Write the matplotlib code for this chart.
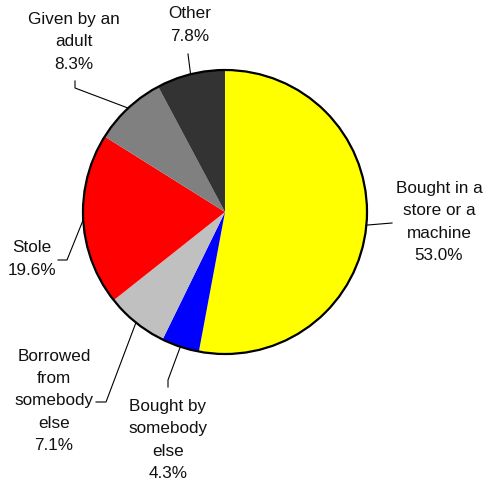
import numpy as np
import matplotlib.pyplot as plt
from matplotlib.patches import Circle

plt.rcParams['font.family'] = ['Liberation Sans', 'DejaVu Sans']

# data (clockwise from top)
labels = ["Bought in a\nstore or a\nmachine", "Bought by\nsomebody\nelse",
          "Borrowed\nfrom\nsomebody\nelse", "Stole", "Given by an\nadult", "Other"]
values = [53.0, 4.3, 7.1, 19.6, 8.3, 7.8]
colors = ["#ffff00", "#0000ff", "#c0c0c0", "#ff0000", "#808080", "#333333"]

# layout in pixel coordinates (y down)
cx, cy, r = 225, 212, 142
text_pos = [(439, 222), (168, 440), (54, 401), (32, 259), (74, 42), (190, 25)]
leader_pts = [[(392, 223)],
              [(168, 380), (168, 387)],
              [(106, 402), (96, 402)],
              [(67, 260), (58, 260)],
              [(75, 88), (75, 81)],
              [(188, 54)]]

fig = plt.figure(figsize=(4.83, 4.84), dpi=100)
ax = fig.add_axes([0, 0, 1, 1])

# inverted y axis: counterclock in data = clockwise on screen
ax.pie(values, colors=colors, startangle=-90, counterclock=True,
       center=(cx, cy), radius=r, wedgeprops=dict(linewidth=0))
ax.add_patch(Circle((cx, cy), r, fill=False, edgecolor="black", lw=1.6, zorder=3))

total = sum(values)
start = -90
for lab, v, tp, pts in zip(labels, values, text_pos, leader_pts):
    mid = np.deg2rad(start + v / total * 360 / 2)
    start += v / total * 360
    ax_pt = (cx + r * np.cos(mid), cy + r * np.sin(mid))
    xs = [ax_pt[0]] + [p[0] for p in pts]
    ys = [ax_pt[1]] + [p[1] for p in pts]
    ax.plot(xs, ys, color="black", lw=0.8, zorder=4)
    ax.text(tp[0], tp[1], f"{lab}\n{v:.1f}%", ha="center", va="center",
            fontsize=12.3, linespacing=1.62, color="#111111", multialignment="center")

ax.set_xlim(0, 483)
ax.set_ylim(484, 0)
ax.set_aspect("equal")
ax.axis("off")
fig.savefig("out.png", dpi=100)
